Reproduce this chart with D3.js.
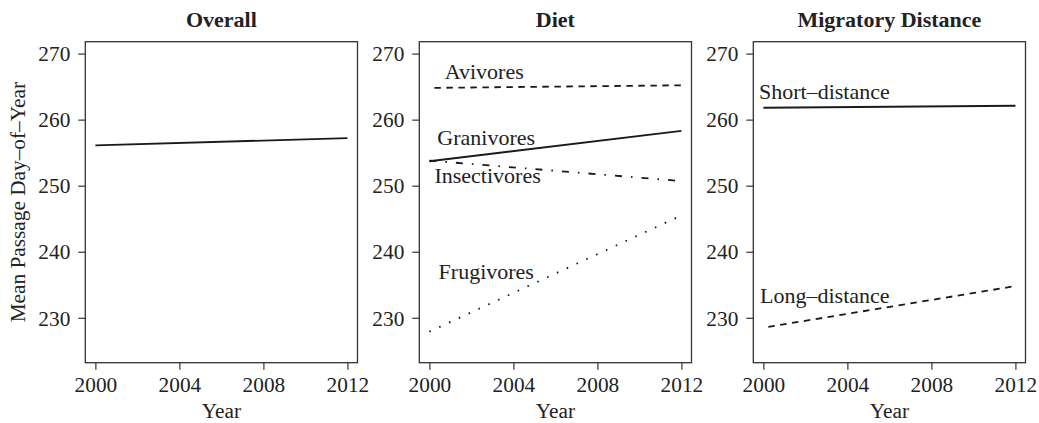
<!DOCTYPE html>
<html><head><meta charset="utf-8">
<script src="https://cdn.jsdelivr.net/npm/d3@7"></script>
<style>body{margin:0;background:#fff}svg{display:block}text{font-family:"Liberation Serif","Times New Roman",serif;fill:#222}</style>
</head><body><svg id="c" width="1039" height="423"></svg>
<script>
const years = [2000, 2012];
const yTicks = [230, 240, 250, 260, 270];
const xTicks = [2000, 2004, 2008, 2012];
const panelTitles = ["Overall", "Diet", "Migratory Distance"];

const overallSeries = [{name: "", values: [256.1, 257.2], style: "solid"}];
const dietSeries = [
  {name: "Avivores",     values: [264.8, 265.2], style: "dashed"},
  {name: "Granivores",   values: [253.7, 258.3], style: "solid"},
  {name: "Insectivores", values: [253.8, 250.7], style: "dotdash"},
  {name: "Frugivores",   values: [227.9, 245.5], style: "dotted"}
];
const migSeries = [
  {name: "Short\u2013distance", values: [261.8, 262.1], style: "solid"},
  {name: "Long\u2013distance",  values: [228.5, 234.8], style: "dashed"}
];
// label anchor points in data units [year, value]
const dietLabels = [[2000.73, 266.2], [2000.38, 256.2], [2000.24, 250.4], [2000.44, 235.9]];
const migLabels = [[1999.79, 263.2], [1999.84, 232.2]];

const panels = [
  {series: overallSeries, labels: []},
  {series: dietSeries, labels: dietLabels},
  {series: migSeries, labels: migLabels}
];

const svg = d3.select("#c");
const pTop = 41.7, pBottom = 362.7, pw = 272.2, lefts = [85.3, 419.3, 753.3];
const dashes = {solid: null, dashed: "6.5,5.5", dotdash: "7,9,1.6,9", dotted: "1.6,9.2"};
const offsets = {solid: 0, dashed: 7, dotdash: 0, dotted: 0};

panels.forEach((p, i) => {
  const x = d3.scaleLinear().domain([1999.52, 2012.48]).range([lefts[i], lefts[i] + pw]);
  const y = d3.scaleLinear().domain([223.2, 271.8]).range([pBottom, pTop]);
  const g = svg.append("g");

  const ya = g.append("g").attr("transform", `translate(${lefts[i]},0)`)
    .call(d3.axisLeft(y).tickValues(yTicks).tickSize(7).tickPadding(8).tickFormat(d3.format("d")));
  const xa = g.append("g").attr("transform", `translate(0,${pBottom})`)
    .call(d3.axisBottom(x).tickValues(xTicks).tickSize(7).tickPadding(7).tickFormat(d3.format("d")));
  [ya, xa].forEach(a => {
    a.select(".domain").remove();
    a.selectAll("line").attr("stroke", "#333").attr("stroke-width", 1.2);
    a.selectAll("text").attr("font-size", 21.3).attr("fill", "#222")
      .style("font-family", '"Liberation Serif","Times New Roman",serif');
  });
  ya.selectAll("text").attr("dy", "0.34em");

  g.append("rect").attr("x", lefts[i]).attr("y", pTop).attr("width", pw).attr("height", pBottom - pTop)
    .attr("fill", "none").attr("stroke", "#333").attr("stroke-width", 1.3);

  const line = d3.line().x(d => x(d[0])).y(d => y(d[1]));
  p.series.forEach((s, k) => {
    g.append("path").datum(years.map((yr, j) => [yr, s.values[j]]))
      .attr("d", line).attr("fill", "none").attr("stroke", "#1a1a1a")
      .attr("stroke-width", 1.8)
      .attr("stroke-dasharray", dashes[s.style])
      .attr("stroke-dashoffset", offsets[s.style]);
    if (p.labels[k]) {
      g.append("text").attr("x", x(p.labels[k][0])).attr("y", y(p.labels[k][1]))
        .attr("font-size", 22).text(s.name);
    }
  });

  g.append("text").attr("x", lefts[i] + pw / 2).attr("y", 27).attr("text-anchor", "middle")
    .attr("font-size", 22).attr("font-weight", "bold").text(panelTitles[i]);
  g.append("text").attr("x", lefts[i] + pw / 2).attr("y", 418).attr("text-anchor", "middle")
    .attr("font-size", 21.3).text("Year");
});

svg.append("text").attr("transform", `translate(25,${(pTop + pBottom) / 2}) rotate(-90)`)
  .attr("text-anchor", "middle").attr("font-size", 21.3).text("Mean Passage Day\u2013of\u2013Year");
</script></body></html>
